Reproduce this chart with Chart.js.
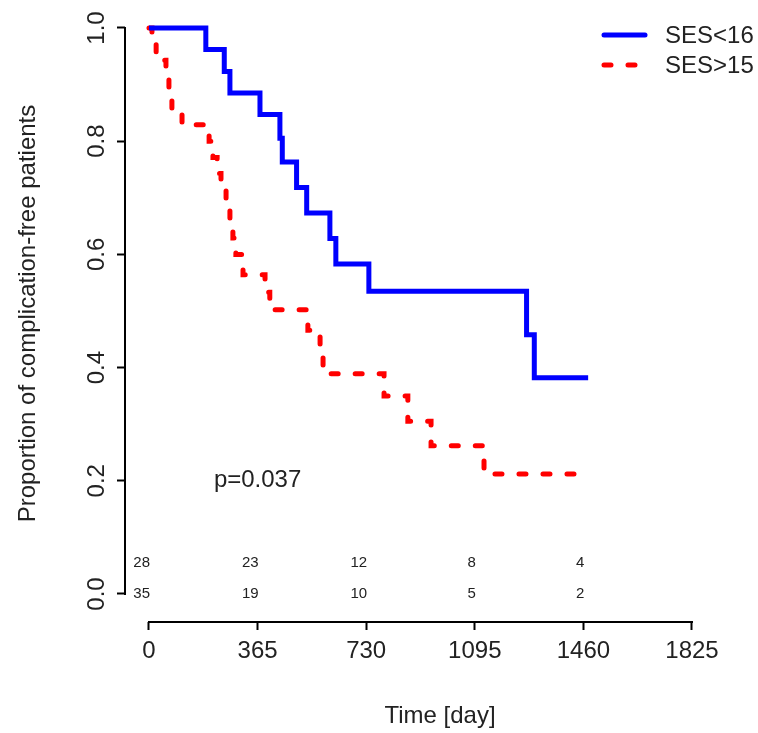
<!DOCTYPE html>
<html><head><meta charset="utf-8">
<script src="https://cdn.jsdelivr.net/npm/chart.js@4.4.0/dist/chart.umd.min.js"></script>
<style>html,body{margin:0;padding:0;background:#fff}canvas{display:block}</style>
</head><body>
<canvas id="c" width="758" height="733"></canvas>
<script>
// ---- data ----
const seriesLabels = ['SES<16', 'SES>15'];
const sesLowDays  = [0, 191, 253, 272, 373, 440, 448, 496, 530, 608, 628, 739, 1269, 1295, 1476];
const sesLowSurv  = [1, 0.962, 0.923, 0.885, 0.847, 0.805, 0.763, 0.718, 0.673, 0.628, 0.583, 0.535, 0.458, 0.382, 0.382];
const sesHighDays = [0, 10, 24, 57, 67, 77, 111, 202, 215, 229, 242, 259, 272, 282, 292, 316, 390, 406, 534, 575, 585, 790, 870, 948, 1126, 1476];
const sesHighSurv = [1, 0.971, 0.943, 0.914, 0.886, 0.857, 0.829, 0.800, 0.771, 0.743, 0.714, 0.686, 0.657, 0.629, 0.600, 0.564, 0.533, 0.502, 0.466, 0.427, 0.389, 0.350, 0.305, 0.262, 0.212, 0.212];
const xTicks = [0, 365, 730, 1095, 1460, 1825];
const yTicks = [0, 0.2, 0.4, 0.6, 0.8, 1.0];
const riskTimes = [0, 365, 730, 1095, 1460];
const riskSesLow = [28, 23, 12, 8, 4];
const riskSesHigh = [35, 19, 10, 5, 2];
const pValueText = 'p=0.037';
const pValueAt = [365, 0.2];
const xTitle = 'Time [day]';
const yTitle = 'Proportion of complication-free patients';

const FONT = '"Liberation Sans", Arial, Helvetica, sans-serif';
const TXT = '#222';
Chart.defaults.font.family = FONT;
Chart.defaults.color = TXT;

const toPts = (xs, ys) => xs.map((v, i) => ({x: v, y: ys[i]}));

const overlay = {
  id: 'overlay',
  afterDatasetsDraw(chart) {
    const {ctx, chartArea, scales: {x, y}} = chart;
    ctx.save();
    // axis lines spanning first..last tick (R style)
    ctx.strokeStyle = '#000';
    ctx.lineWidth = 2;
    ctx.beginPath();
    ctx.moveTo(x.getPixelForValue(xTicks[0]) - 1, chartArea.bottom);
    ctx.lineTo(x.getPixelForValue(xTicks[xTicks.length - 1]) + 1, chartArea.bottom);
    ctx.moveTo(chartArea.left, y.getPixelForValue(yTicks[0]) + 1);
    ctx.lineTo(chartArea.left, y.getPixelForValue(yTicks[yTicks.length - 1]) - 1);
    ctx.stroke();

    // numbers at risk
    ctx.fillStyle = TXT;
    ctx.font = '15px ' + FONT;
    ctx.textAlign = 'right';
    ctx.textBaseline = 'middle';
    riskTimes.forEach((t, i) => {
      const px = x.getPixelForValue(t) + 1;
      ctx.fillText(String(riskSesLow[i]), px, y.getPixelForValue(0.055));
      ctx.fillText(String(riskSesHigh[i]), px, y.getPixelForValue(0));
    });

    // p-value
    ctx.font = '24px ' + FONT;
    ctx.textAlign = 'center';
    ctx.fillText(pValueText, x.getPixelForValue(pValueAt[0]), y.getPixelForValue(pValueAt[1]));

    // legend (top right)
    const rows = [35, 65];
    chart.data.datasets.forEach((ds, i) => {
      const ly = rows[i];
      ctx.save();
      ctx.strokeStyle = ds.borderColor;
      ctx.lineWidth = ds.borderWidth;
      ctx.lineCap = 'round';
      ctx.setLineDash(ds.borderDash || []);
      ctx.beginPath();
      ctx.moveTo(604, ly);
      ctx.lineTo(645, ly);
      ctx.stroke();
      ctx.restore();
      ctx.fillStyle = TXT;
      ctx.font = '24px ' + FONT;
      ctx.textAlign = 'left';
      ctx.textBaseline = 'middle';
      ctx.fillText(ds.label, 665, ly + 1);
    });
    ctx.restore();
  }
};

new Chart(document.getElementById('c'), {
  type: 'line',
  data: {
    datasets: [
      {
        label: seriesLabels[0],
        data: toPts(sesLowDays, sesLowSurv),
        borderColor: '#0000ff',
        borderWidth: 5,
        stepped: 'before',
        pointRadius: 0,
        fill: false,
        borderCapStyle: 'butt'
      },
      {
        label: seriesLabels[1],
        data: toPts(sesHighDays, sesHighSurv),
        borderColor: '#ff0000',
        borderWidth: 5,
        borderDash: [7, 17],
        borderCapStyle: 'round',
        stepped: 'before',
        pointRadius: 0,
        fill: false
      }
    ]
  },
  options: {
    responsive: false,
    devicePixelRatio: 1,
    animation: false,
    layout: {padding: {top: 5, right: 3, bottom: 0, left: 0}},
    plugins: {legend: {display: false}, tooltip: {enabled: false}},
    scales: {
      x: {
        type: 'linear',
        min: -80.66,
        max: 2036.8,
        afterBuildTicks: s => { s.ticks = xTicks.map(v => ({value: v})); },
        afterFit: s => { s.height = 111; s.paddingLeft = 0; s.paddingRight = 0; },
        border: {display: false},
        grid: {drawOnChartArea: false, drawTicks: true, tickLength: 8, tickWidth: 2, tickColor: '#000'},
        ticks: {callback: v => String(v), font: {size: 24}, padding: 7, autoSkip: false, maxRotation: 0, color: TXT},
        title: {display: true, text: xTitle, font: {size: 24}, padding: {top: 0, bottom: 2}, color: TXT}
      },
      y: {
        type: 'linear',
        min: -0.0495,
        max: 1.0406,
        afterBuildTicks: s => { s.ticks = yTicks.map(v => ({value: v})); },
        afterFit: s => { s.width = 125; s.paddingTop = 0; s.paddingBottom = 0; },
        border: {display: false},
        grid: {drawOnChartArea: false, drawTicks: true, tickLength: 8, tickWidth: 2, tickColor: '#000'},
        ticks: {callback: v => Number(v).toFixed(1), font: {size: 24}, padding: 3, autoSkip: false,
                minRotation: 90, maxRotation: 90, crossAlign: 'center', color: TXT},
        title: {display: true, text: yTitle, font: {size: 24}, padding: {top: 14, bottom: 0}, color: TXT}
      }
    }
  },
  plugins: [overlay]
});
</script>
</body></html>
